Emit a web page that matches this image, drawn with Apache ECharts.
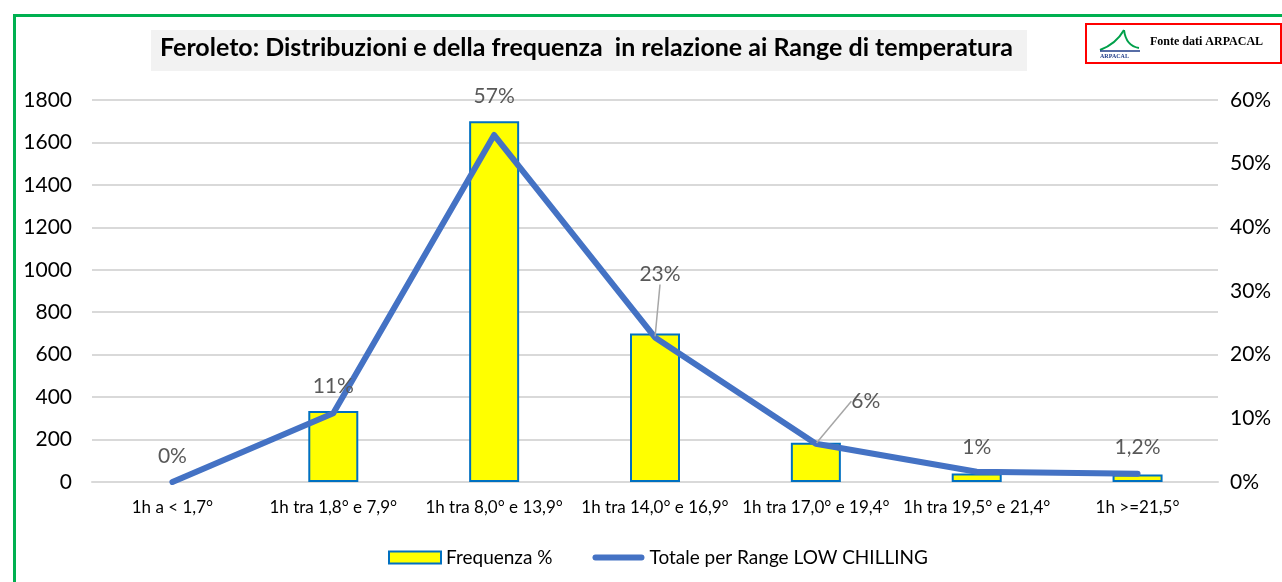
<!DOCTYPE html>
<html>
<head>
<meta charset="utf-8">
<script src="https://cdn.jsdelivr.net/npm/echarts@6/dist/echarts.min.js"></script>
<style>
html, body { margin: 0; padding: 0; background: #fff; }
#chart { width: 1282px; height: 582px; }
</style>
</head>
<body>
<div id="chart"></div>
<script>
// categorie (range di temperatura)
var categories = ['1h a < 1,7°', '1h tra 1,8° e 7,9°', '1h tra 8,0° e 13,9°', '1h tra 14,0° e 16,9°',
    '1h tra 17,0° e 19,4°', '1h tra 19,5° e 21,4°', '1h >=21,5°'];
// barre: ore per range (asse sinistro)
var frequenza = [0, 335, 1700, 700, 185, 40, 35];
// linea: percentuale (asse destro)
var totalePct = [0, 10.8, 54.5, 22.7, 6.0, 1.6, 1.3];
// etichette della linea
var etichette = ['0%', '11%', '57%', '23%', '6%', '1%', '1,2%'];
// tick asse destro
var pctTicks = [0, 10, 20, 30, 40, 50, 60];

// spostamento etichette (dx, dy)
var labelShift = [[0, -9], [0, -11], [0, -22], [5, -47], [50, -26], [0, -8], [0, -10]];

var myChart = echarts.init(document.getElementById('chart'));

var barData = frequenza.map(function (v) {
    var d = { value: v };
    if (v === 0) d.itemStyle = { borderWidth: 0 };
    return d;
});

var lineData = totalePct.map(function (v, i) {
    var d = { value: v };
    if (i === 3 || i === 4) {
        d.labelLine = { show: true };
    }
    return d;
});

var options = {
    animation: false,
    textStyle: { fontFamily: 'Lato' },
    grid: { left: 92, right: 64, top: 100, bottom: 100 },
    legend: {
        left: 383,
        top: 543,
        itemGap: 40,
        itemWidth: 52,
        itemHeight: 12,
        symbolKeepAspect: true,
        textStyle: { fontSize: 19, color: '#000', fontFamily: 'Lato' },
        data: [
            { name: 'Frequenza %', icon: 'rect' },
            { name: 'Totale per Range LOW CHILLING', icon: 'path://M3,0 L49,0 A3,3 0 0 1 49,6 L3,6 A3,3 0 0 1 3,0 Z',
              itemStyle: { color: '#4472C4', borderWidth: 0 } }
        ]
    },
    xAxis: [{
        type: 'category',
        data: categories,
        axisTick: { show: false },
        axisLine: { lineStyle: { color: '#D9D9D9', width: 2 } },
        axisLabel: { color: '#000', fontSize: 17, margin: 17, interval: 0 }
    }],
    yAxis: [{
        type: 'value',
        min: 0,
        max: 1800,
        interval: 200,
        axisLine: { show: false },
        axisTick: { show: false },
        axisLabel: { color: '#000', fontSize: 21, margin: 20, formatter: function (v) { return String(v); } },
        splitLine: { lineStyle: { color: '#D9D9D9', width: 2 } }
    }, {
        type: 'value',
        min: pctTicks[0],
        max: pctTicks[pctTicks.length - 1],
        interval: 10,
        axisLine: { show: false },
        axisTick: { show: false },
        splitLine: { show: false },
        axisLabel: { color: '#000', fontSize: 21, margin: 12, formatter: '{value}%' }
    }],
    series: [{
        name: 'Frequenza %',
        type: 'bar',
        barWidth: 50,
        data: barData,
        itemStyle: { color: '#FFFF00', borderColor: '#0070C0', borderWidth: 2 }
    }, {
        name: 'Totale per Range LOW CHILLING',
        type: 'line',
        yAxisIndex: 1,
        symbol: 'circle',
        symbolSize: 2,
        showSymbol: true,
        data: lineData,
        lineStyle: { color: '#4472C4', width: 6, cap: 'round', join: 'round' },
        itemStyle: { color: '#4472C4' },
        label: {
            show: true,
            position: 'top',
            fontSize: 21,
            color: '#595959',
            formatter: function (p) { return etichette[p.dataIndex]; }
        },
        labelLine: { show: false, lineStyle: { color: '#A6A6A6', width: 1.5 } },
        labelLayout: function (p) {
            var s = labelShift[p.dataIndex];
            return { dx: s[0], dy: s[1] };
        }
    }],
    graphic: [
        // bordo verde
        { type: 'rect', left: 12, top: 13, shape: { width: 1300, height: 600 },
          style: { fill: 'none', stroke: '#00B050', lineWidth: 3 }, silent: true },
        // box titolo
        { type: 'rect', left: 151, top: 30, shape: { width: 876, height: 41 },
          style: { fill: '#F2F2F2' }, z: 1 },
        { type: 'text', left: 160, top: 35, z: 2,
          style: { text: 'Feroleto: Distribuzioni e della frequenza  in relazione ai Range di temperatura',
                   font: 'bold 25px Lato', fill: '#000' } },
        // box fonte
        { type: 'rect', left: 1085, top: 23, shape: { width: 195, height: 39 },
          style: { fill: '#fff', stroke: '#FF0000', lineWidth: 2 }, z: 3 },
        { type: 'bezierCurve', z: 4,
          shape: { x1: 1100, y1: 50, cpx1: 1116, cpy1: 44, x2: 1124, y2: 30 },
          style: { stroke: '#00A04A', lineWidth: 2, fill: 'none' } },
        { type: 'bezierCurve', z: 4,
          shape: { x1: 1124, y1: 30, cpx1: 1126, cpy1: 46, x2: 1139, y2: 48 },
          style: { stroke: '#00A04A', lineWidth: 2, fill: 'none' } },
        { type: 'line', z: 4, shape: { x1: 1100, y1: 51, x2: 1140, y2: 51 },
          style: { stroke: '#1F3C88', lineWidth: 1.5 } },
        { type: 'text', left: 1100, top: 53, z: 4,
          style: { text: 'ARPACAL', font: 'bold 6px "Liberation Serif"', fill: '#1F3C88' } },
        { type: 'text', left: 1150, top: 36, z: 4,
          style: { text: 'Fonte dati ARPACAL', font: 'bold 12px "Liberation Serif"', fill: '#000' } }
    ]
};

myChart.setOption(options);
</script>
</body>
</html>
